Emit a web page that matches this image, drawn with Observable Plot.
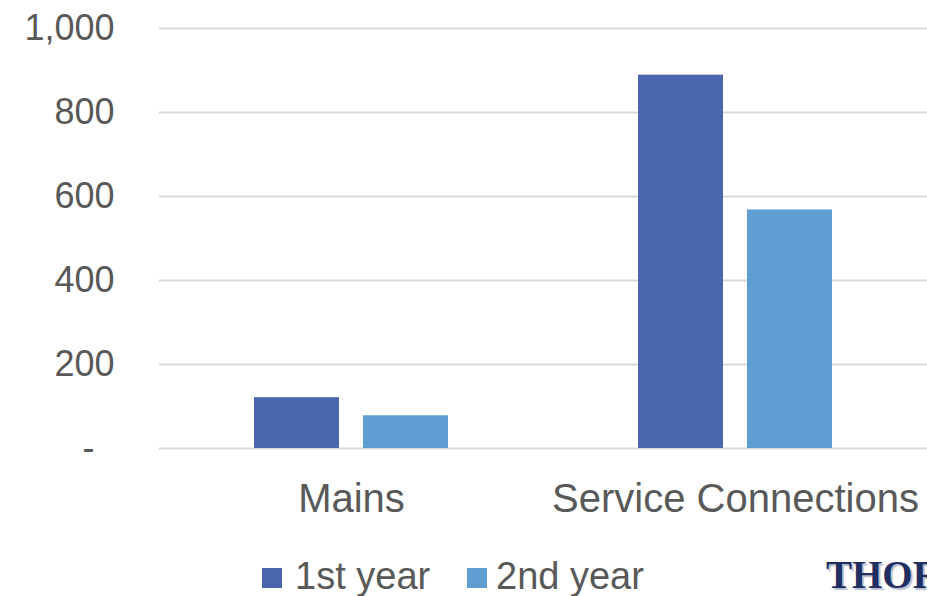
<!DOCTYPE html>
<html>
<head>
<meta charset="utf-8">
<script src="https://cdn.jsdelivr.net/npm/d3@7"></script>
<script src="https://cdn.jsdelivr.net/npm/@observablehq/plot@0.6"></script>
<style>
  html, body { margin: 0; padding: 0; background: #fff; }
  #wrap { position: relative; width: 927px; height: 596px; overflow: hidden; background: #fff; }
  #chart { position: absolute; left: 0; top: 0; }
  .lg { position: absolute; font-family: "Liberation Sans", Arial, sans-serif; font-size: 38px; line-height: 38px; color: #595959; white-space: nowrap; }
  .sw { position: absolute; width: 20px; height: 20px; }
  #logo { position: absolute; left: 826px; top: 555px; font-family: "Liberation Serif", "DejaVu Serif", serif; font-weight: bold; font-size: 39px; line-height: 39px; color: #1f2f62; text-shadow: 2px 2px 1px #b9bfcf; white-space: nowrap; }
</style>
</head>
<body>
<div id="wrap">
  <div id="chart"></div>
  <div id="legend"></div>
  <div id="logo">THOR</div>
</div>
<script>
const categories = ["Mains", "Service Connections"];
const series = ["1st year", "2nd year"];
const firstYear = [121, 889];
const secondYear = [78, 568];
const yTicks = [0, 200, 400, 600, 800, 1000];
const colors = ["#4a67ad", "#5f9ed2"];

const data = categories.flatMap((c, i) => [
  {category: c, series: series[0], value: firstYear[i]},
  {category: c, series: series[1], value: secondYear[i]}
]);

const chart = Plot.plot({
  width: 927,
  height: 530,
  marginTop: 28,
  marginBottom: 82,
  marginLeft: 158,
  marginRight: 0,
  style: {fontFamily: "Liberation Sans, Arial, sans-serif", color: "#595959", background: "white", overflow: "visible"},
  fx: {domain: categories, padding: 0, label: null},
  x: {domain: series, paddingInner: 0.218, paddingOuter: 0.857, axis: null},
  y: {domain: [0, 1000], label: null},
  color: {domain: series, range: colors},
  marks: [
    Plot.gridY(yTicks, {stroke: "#d9d9d9", strokeWidth: 2, strokeOpacity: 1}),
    Plot.barY(data, {fx: "category", x: "series", y: "value", fill: "series"}),
    Plot.axisY(yTicks, {
      tickSize: 0, tickPadding: 45, fontSize: 36, fill: "#595959", label: null,
      tickFormat: d => d === 0 ? "-\u00a0\u00a0" : d3.format(",")(d)
    }),
    Plot.axisFx({anchor: "bottom", tickSize: 0, tickPadding: 35, fontSize: 40, fill: "#595959", label: null})
  ]
});
document.getElementById("chart").appendChild(chart);

const legend = document.getElementById("legend");
const items = [
  {label: series[0], color: colors[0], sx: 262, tx: 295},
  {label: series[1], color: colors[1], sx: 467, tx: 496}
];
for (const it of items) {
  const sw = document.createElement("div");
  sw.className = "sw";
  sw.style.left = it.sx + "px";
  sw.style.top = "568px";
  sw.style.background = it.color;
  legend.appendChild(sw);
  const t = document.createElement("div");
  t.className = "lg";
  t.style.left = it.tx + "px";
  t.style.top = "557px";
  t.textContent = it.label;
  legend.appendChild(t);
}
</script>
</body>
</html>
